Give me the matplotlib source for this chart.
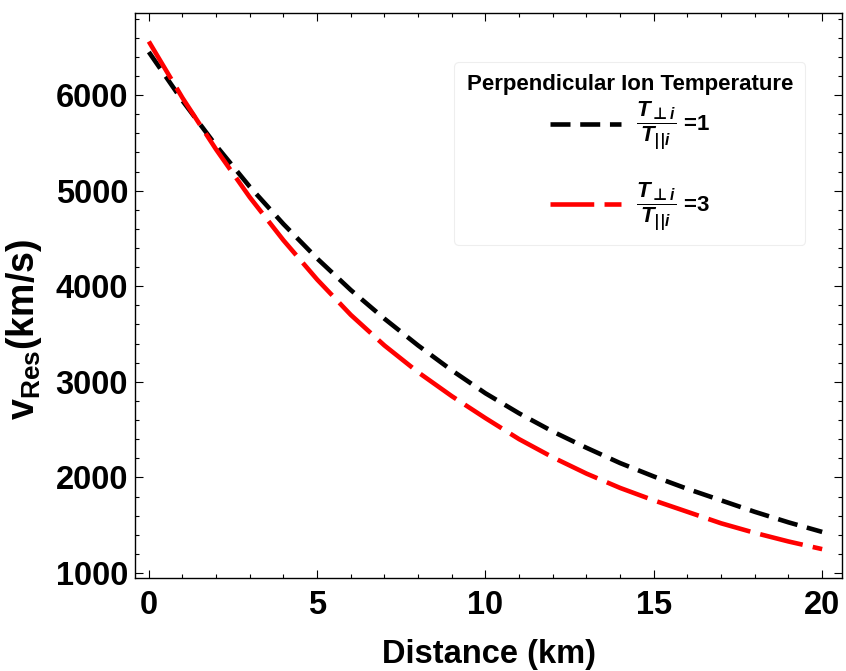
import matplotlib
matplotlib.use('Agg')
import matplotlib.pyplot as plt
from matplotlib.ticker import MultipleLocator

plt.rcParams['font.family'] = ['Liberation Sans', 'DejaVu Sans']
plt.rcParams['font.weight'] = 'bold'
plt.rcParams['mathtext.fontset'] = 'custom'
plt.rcParams['mathtext.rm'] = 'Liberation Sans:bold'
plt.rcParams['mathtext.bf'] = 'Liberation Sans:bold'
plt.rcParams['mathtext.it'] = 'Liberation Sans:bold:italic'
plt.rcParams['mathtext.sf'] = 'DejaVu Sans'
plt.rcParams['lines.scale_dashes'] = False

# distance (km) and resonance velocity (km/s)
distance = [0, 1, 2, 3, 4, 5, 6, 7, 8, 9, 10, 11, 12, 13, 14, 15, 16, 17, 18, 19, 20]
v_ratio1 = [6450, 5940, 5470, 5040, 4650, 4290, 3960, 3660, 3380, 3120, 2880,
            2670, 2480, 2310, 2150, 2010, 1880, 1760, 1640, 1530, 1430]
v_ratio3 = [6560, 5970, 5430, 4930, 4480, 4070, 3700, 3380, 3100, 2850, 2620,
            2400, 2210, 2040, 1890, 1760, 1640, 1520, 1420, 1330, 1250]
labels = [r'$\dfrac{T_{\mathsf{\bot} i}}{T_{\mathsf{||}i}}$ =1',
          r'$\dfrac{T_{\mathsf{\bot} i}}{T_{\mathsf{||}i}}$ =3']


def make_plot():
    fig = plt.figure(figsize=(8.46, 6.71), dpi=100)
    ax = fig.add_axes([0.1596, 0.1386, 0.8357, 0.842])

    ax.plot(distance, v_ratio1, color='black', lw=3.3, dashes=(14.4, 7.0),
            label=labels[0])
    ax.plot(distance, v_ratio3, color='red', lw=3.3, dashes=(31.5, 7.4),
            label=labels[1])

    ax.set_xlim(-0.41, 20.59)
    ax.set_ylim(948, 6858)
    ax.xaxis.set_major_locator(MultipleLocator(5))
    ax.xaxis.set_minor_locator(MultipleLocator(1))
    ax.yaxis.set_major_locator(MultipleLocator(1000))
    ax.yaxis.set_minor_locator(MultipleLocator(200))
    ax.tick_params(which='both', direction='in', top=True, right=True,
                   width=0.8, labelsize=23.5, pad=5)
    ax.tick_params(axis='x', which='both', pad=8.5)
    ax.tick_params(which='major', length=5.5)
    ax.tick_params(which='minor', length=3)
    for s in ax.spines.values():
        s.set_linewidth(1.0)

    ax.set_xlabel('Distance (km)', fontsize=23.5, fontweight='bold', labelpad=13)
    ax.set_ylabel(r'v$_{\mathbf{Res}}$(km/s)', fontsize=27, fontweight='bold')
    ax.yaxis.set_label_coords(-0.129, 0.44)

    leg = ax.legend(loc='upper right', bbox_to_anchor=(0.948, 0.913),
                    borderaxespad=0,
                    title='Perpendicular Ion Temperature',
                    prop={'size': 16, 'weight': 'bold'},
                    title_fontproperties={'size': 16, 'weight': 'bold'},
                    handlelength=3.2, handletextpad=0.7, labelspacing=1.25,
                    borderpad=0.55, fancybox=True, framealpha=1,
                    edgecolor='#eeeeee')
    leg.get_frame().set_linewidth(0.8)
    # tighter gap between the title and the first entry
    leg._legend_box.sep = 3

    fig.savefig('out.png', dpi=100)


def main():
    make_plot()


if __name__ == '__main__':
    main()
